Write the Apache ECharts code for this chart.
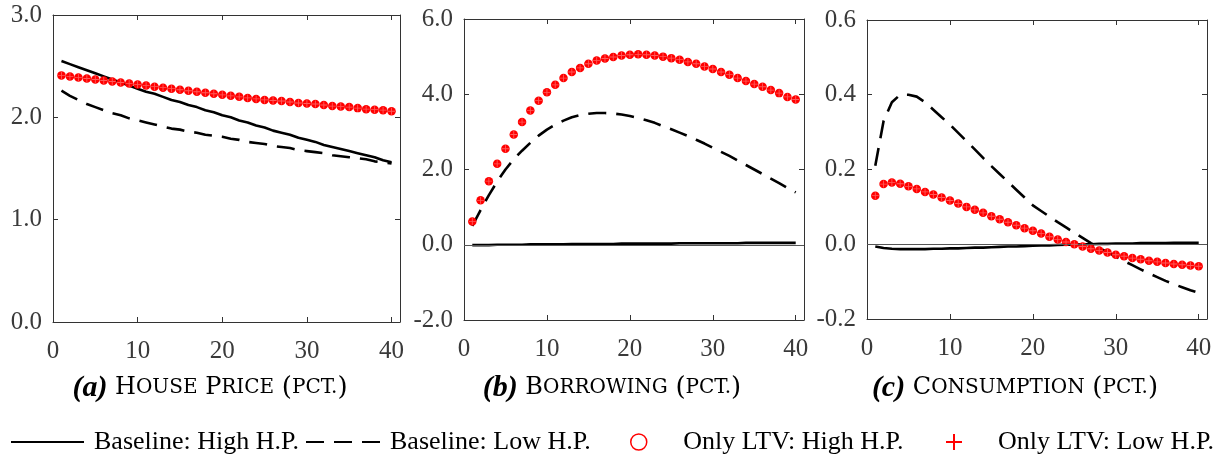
<!DOCTYPE html>
<html>
<head>
<meta charset="utf-8">
<script src="https://cdn.jsdelivr.net/npm/echarts@6/dist/echarts.min.js"></script>
<style>
  html, body { margin: 0; padding: 0; background: #fff; }
  #chart { width: 1228px; height: 455px; }
</style>
</head>
<body>
<div id="chart"></div>
<script>
// quarters after the shock
const periods = [1,2,3,4,5,6,7,8,9,10,11,12,13,14,15,16,17,18,19,20,
                 21,22,23,24,25,26,27,28,29,30,31,32,33,34,35,36,37,38,39,40];

// (a) house price
const baseHighA = [2.55,2.52,2.49,2.46,2.43,2.40,2.37,2.34,2.31,2.28,2.25,2.23,2.20,2.17,2.15,2.12,2.10,2.07,2.05,2.02,
                   2.00,1.97,1.95,1.92,1.90,1.87,1.85,1.83,1.80,1.78,1.76,1.73,1.71,1.69,1.67,1.65,1.63,1.61,1.58,1.56];
const baseLowA  = [2.26,2.21,2.17,2.13,2.10,2.07,2.04,2.02,1.99,1.97,1.95,1.93,1.91,1.89,1.88,1.86,1.85,1.83,1.82,1.81,
                   1.79,1.78,1.76,1.75,1.74,1.72,1.71,1.70,1.68,1.67,1.66,1.65,1.63,1.62,1.61,1.60,1.59,1.57,1.56,1.55];
const ltvHighA  = [2.41,2.40,2.39,2.38,2.37,2.36,2.35,2.34,2.33,2.32,2.31,2.30,2.29,2.28,2.27,2.26,2.25,2.24,2.23,2.22,
                   2.21,2.20,2.19,2.18,2.17,2.165,2.16,2.15,2.14,2.135,2.13,2.12,2.11,2.105,2.10,2.09,2.08,2.075,2.07,2.06];
const ltvLowA   = ltvHighA; // the two LTV runs lie on top of each other

// (b) borrowing
const baseHighB = [-0.01,-0.01,-0.01,0.00,0.00,0.00,0.00,0.01,0.01,0.01,0.01,0.01,0.02,0.02,0.02,0.02,0.02,0.02,0.03,0.03,
                   0.03,0.03,0.03,0.03,0.03,0.04,0.04,0.04,0.04,0.04,0.04,0.04,0.04,0.05,0.05,0.05,0.05,0.05,0.05,0.05];
const baseLowB  = [0.50,0.92,1.32,1.68,2.00,2.27,2.50,2.71,2.90,3.06,3.19,3.30,3.39,3.45,3.48,3.50,3.50,3.49,3.46,3.42,
                   3.37,3.31,3.24,3.15,3.07,2.98,2.89,2.79,2.69,2.58,2.47,2.36,2.24,2.12,2.00,1.88,1.76,1.64,1.51,1.39];
const ltvHighB  = [0.62,1.18,1.69,2.15,2.55,2.93,3.26,3.57,3.83,4.05,4.25,4.43,4.59,4.70,4.81,4.90,4.95,4.99,5.03,5.05,
                   5.06,5.05,5.03,5.00,4.96,4.92,4.86,4.81,4.74,4.67,4.59,4.52,4.43,4.35,4.27,4.20,4.11,4.03,3.93,3.86];
const ltvLowB   = ltvHighB;

// (c) consumption
const baseHighC = [-0.006,-0.010,-0.012,-0.013,-0.013,-0.013,-0.013,-0.012,-0.012,-0.011,-0.011,-0.010,-0.009,-0.009,-0.008,-0.007,-0.006,-0.006,-0.005,-0.004,
                   -0.003,-0.003,-0.002,-0.001,-0.001,0.000,0.000,0.001,0.001,0.002,0.002,0.002,0.003,0.003,0.003,0.003,0.004,0.004,0.004,0.004];
const baseLowC  = [0.21,0.33,0.38,0.40,0.40,0.395,0.38,0.36,0.34,0.32,0.298,0.276,0.254,0.231,0.209,0.188,0.167,0.146,0.125,0.104,
                   0.089,0.074,0.059,0.045,0.031,0.017,0.003,-0.009,-0.021,-0.033,-0.045,-0.056,-0.067,-0.078,-0.088,-0.098,-0.107,-0.115,-0.123,-0.130];
const ltvHighC  = [0.130,0.161,0.165,0.162,0.155,0.148,0.140,0.133,0.125,0.117,0.109,0.100,0.092,0.084,0.075,0.067,0.059,0.051,0.043,0.036,
                   0.029,0.020,0.013,0.006,0.000,-0.006,-0.012,-0.017,-0.022,-0.028,-0.032,-0.037,-0.040,-0.044,-0.047,-0.050,-0.053,-0.055,-0.057,-0.059];
const ltvLowC   = ltvHighC;

const xTicks = [0, 10, 20, 30, 40];
const yTicksA = [0, 1, 2, 3];
const yTicksB = [-2, 0, 2, 4, 6];
const yTicksC = [-0.2, 0, 0.2, 0.4, 0.6];

const names = ['Baseline: High H.P.', 'Baseline: Low H.P.', 'Only LTV: High H.P.', 'Only LTV: Low H.P.'];

const serif = 'Liberation Serif';
const axisColor = '#333';
const plusPath = 'path://M7,0h2v7h7v2h-7v7h-2v-7h-7v-2h7z';

const chart = echarts.init(document.getElementById('chart'));

const grids = [
  { left: 53, top: 15, width: 347, height: 307 },
  { left: 464, top: 19, width: 340, height: 301 },
  { left: 867, top: 20, width: 340, height: 299 }
];
const yTickSets = [yTicksA, yTicksB, yTicksC];
const panels = [
  [baseHighA, baseLowA, ltvHighA, ltvLowA],
  [baseHighB, baseLowB, ltvHighB, ltvLowB],
  [baseHighC, baseLowC, ltvHighC, ltvLowC]
];

function pairs(vals) {
  return periods.map((p, i) => [p, vals[i]]);
}

const xAxis = [];
const yAxis = [];
const series = [];

grids.forEach((g, gi) => {
  const yt = yTickSets[gi];
  const yInterval = +(yt[1] - yt[0]).toFixed(4);
  ['bottom', 'top'].forEach((pos, k) => {
    xAxis.push({
      type: 'value', gridIndex: gi, position: pos,
      min: 0, max: 41, interval: xTicks[1] - xTicks[0],
      axisLine: { show: true, onZero: false, lineStyle: { color: axisColor, width: 1 } },
      axisTick: { show: true, inside: true, length: 5, lineStyle: { color: axisColor } },
      splitLine: { show: false },
      axisLabel: {
        show: k === 0, margin: 17, color: '#3a3a3a',
        fontFamily: serif, fontSize: 25,
        formatter: v => (xTicks.indexOf(v) >= 0 ? String(v) : '')
      }
    });
  });
  ['left', 'right'].forEach((pos, k) => {
    yAxis.push({
      type: 'value', gridIndex: gi, position: pos,
      min: yt[0], max: yt[yt.length - 1], interval: yInterval,
      axisLine: { show: true, onZero: false, lineStyle: { color: axisColor, width: 1 } },
      axisTick: { show: true, inside: true, length: 5, lineStyle: { color: axisColor } },
      splitLine: { show: false },
      axisLabel: {
        show: k === 0, margin: 11, color: '#3a3a3a',
        fontFamily: serif, fontSize: 25,
        formatter: v => v.toFixed(1)
      }
    });
  });

  const d = panels[gi];
  const base = {
    name: names[0], type: 'line', xAxisIndex: gi * 2, yAxisIndex: gi * 2,
    data: pairs(d[0]), symbol: 'none', z: 3,
    lineStyle: { color: '#000', width: 2.6 }, itemStyle: { color: '#000' }
  };
  if (gi > 0) {
    base.markLine = {
      silent: true, symbol: ['none', 'none'], label: { show: false },
      lineStyle: { color: '#555', width: 1, type: 'solid' },
      data: [{ yAxis: 0 }], animation: false
    };
  }
  series.push(base);
  series.push({
    name: names[1], type: 'line', xAxisIndex: gi * 2, yAxisIndex: gi * 2,
    data: pairs(d[1]), symbol: 'none', z: 3,
    lineStyle: { color: '#000', width: 2.6, type: [18, 10] }, itemStyle: { color: '#000' }
  });
  series.push({
    name: names[2], type: 'scatter', xAxisIndex: gi * 2, yAxisIndex: gi * 2,
    data: pairs(d[2]), symbol: 'circle', symbolSize: 8.5, z: 4,
    itemStyle: { color: '#ff0000', opacity: 1 }
  });
  series.push({
    name: names[3], type: 'scatter', xAxisIndex: gi * 2, yAxisIndex: gi * 2,
    data: pairs(d[3]), symbol: plusPath, symbolSize: 7, z: 5,
    itemStyle: { color: '#ff5a5a', opacity: 1 }
  });
});

const legendText = { fontFamily: serif, fontSize: 26, color: '#000', padding: [0, 0, 0, 5] };
const legendBase = { top: 429, padding: 0, itemHeight: 16, selectedMode: false, textStyle: legendText };

function titleText(x, rich) {
  return {
    type: 'text', x: x, y: 388,
    style: {
      text: rich, align: 'center', verticalAlign: 'middle',
      fontFamily: 'DejaVu Serif', fontSize: 24, fill: '#000',
      rich: {
        b: { fontFamily: serif, fontSize: 30, fontWeight: 'bold', fontStyle: 'italic' },
        c: { fontFamily: 'DejaVu Serif', fontSize: 24 },
        p: { fontFamily: 'DejaVu Serif', fontSize: 26 },
        s: { fontFamily: 'DejaVu Serif', fontSize: 20 }
      }
    }
  };
}

chart.setOption({
  animation: false,
  grid: grids,
  xAxis: xAxis,
  yAxis: yAxis,
  series: series,
  legend: [
    Object.assign({}, legendBase, { left: 10, itemWidth: 73, data: [{ name: names[0], itemStyle: { opacity: 0 } }] }),
    Object.assign({}, legendBase, { left: 305, itemWidth: 74, data: [{ name: names[1], itemStyle: { opacity: 0 } }] }),
    Object.assign({}, legendBase, { left: 630, itemWidth: 69, data: [{
      name: names[2], icon: 'circle',
      itemStyle: { color: 'rgba(0,0,0,0)', borderColor: '#ff0000', borderWidth: 1.5 }
    }] }),
    Object.assign({}, legendBase, { left: 946, itemWidth: 68, data: [{
      name: names[3], icon: plusPath, itemStyle: { color: '#ff0000' }
    }] })
  ],
  graphic: [
    titleText(210, '{b|(a)} {c|H}{s|OUSE} {c|P}{s|RICE} {p|(}{s|PCT.}{p|)}'),
    titleText(612, '{b|(b)} {c|B}{s|ORROWING} {p|(}{s|PCT.}{p|)}'),
    titleText(1015, '{b|(c)} {c|C}{s|ONSUMPTION} {p|(}{s|PCT.}{p|)}')
  ]
});

window.addEventListener('resize', () => chart.resize());
</script>
</body>
</html>
